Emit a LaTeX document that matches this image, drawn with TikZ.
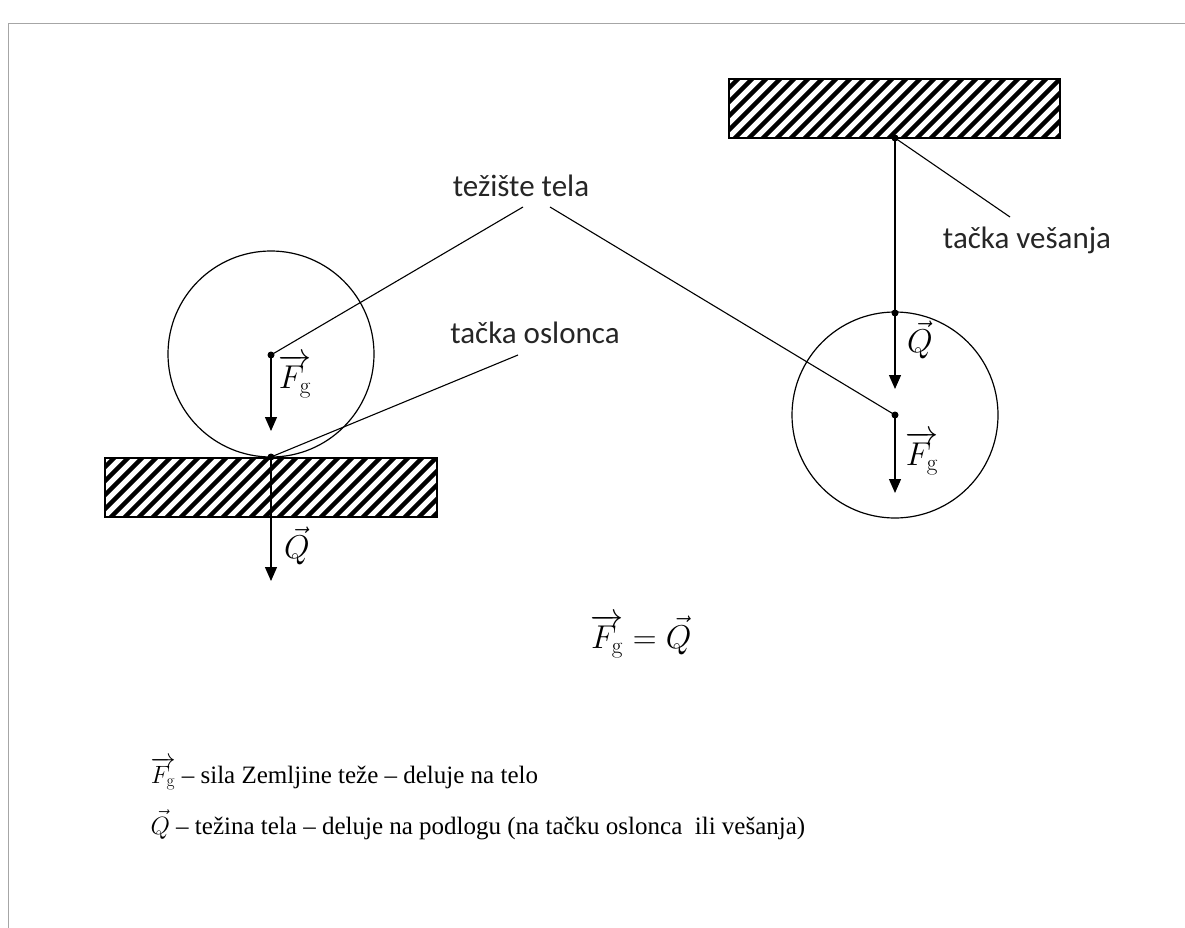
\RequirePackage{fix-cm}
\documentclass[tikz,border=0pt]{standalone}
\usepackage[no-math]{fontspec}
\setmainfont{Carlito}
\newfontfamily\legfont{Liberation Serif}
\usetikzlibrary{arrows.meta}
\tikzset{
  lbl/.style={font=\fontsize{31}{35}\selectfont, text=black!85, inner sep=0pt},
  mth/.style={font=\fontsize{33}{37}\selectfont, inner sep=0pt},
  leg/.style={font=\fontsize{25}{29}\selectfont\legfont, anchor=base west, inner sep=0pt},
  force/.style={line width=1.3pt, -{Triangle[length=14pt,width=12pt]}},
  leader/.style={line width=1.1pt},
  dotpt/.style={circle, fill=black, inner sep=0pt, minimum size=7pt}
}
\newcommand\hatchbox[4]{%
  \begin{scope}
    \clip (#1,#2) rectangle (#3,#4);
    \foreach \i in {-80,-66,...,420} \draw[line width=4.5pt] ({#1+\i},{#4+2}) -- ({#1+\i+63},{#2-2});
  \end{scope}
  \draw[line width=1.6pt] (#1,#2) rectangle (#3,#4);}
\newcommand\Fgvec{\overrightarrow{F_{\mathrm{g}}}}
\begin{document}
\begin{tikzpicture}[x=1pt,y=-1pt, line width=1.2pt]
\useasboundingbox (0,0) rectangle (1185,928);
\fill[white] (0,0) rectangle (1185,928);
\draw[black!35, line width=1.5pt] (8.5,928) -- (8.5,23.5) -- (1185,23.5);

% supports
\hatchbox{105}{458}{437}{517}
\hatchbox{729}{79}{1060}{138}

% circles
\draw (271,354) circle[radius=103pt];
\draw (895,415) circle[radius=103pt];

% points
\node[dotpt] (c1) at (271,355) {};
\node[dotpt] (k1) at (271,457) {};
\coordinate (e1) at (271,431);
\coordinate (e2) at (271,581);
\node[dotpt] (h) at (895,138) {};
\node[dotpt] (k2) at (895,313) {};
\node[dotpt] (c2) at (895,415) {};
\coordinate (e3) at (895,389);
\coordinate (e4) at (895,493);

% forces
\draw[force] (c1.center) -- (e1);
\draw[force] (k1.center) -- (e2);
\draw[line width=1.3pt] (h.center) -- (k2.center);
\draw[force] (k2.center) -- (e3);
\draw[force] (c2.center) -- (e4);

% force labels
\node[mth] (f1) at (295,376) {$\Fgvec$};
\node[mth] (q1) at (297,546) {$\vec{Q}$};
\node[mth] (q2) at (920,340) {$\vec{Q}$};
\node[mth] (f2) at (922,453) {$\Fgvec$};

% text labels and leaders
\node[lbl] (tez) at (521,186) {težište tela};
\node[lbl] (osl) at (535,333) {tačka oslonca};
\node[lbl] (ves) at (1027,240) {tačka vešanja};
\coordinate (t1) at (523,207);
\coordinate (t2) at (550,207);
\coordinate (o1) at (518,355);
\coordinate (v1) at (1010,217);
\draw[leader] (t1) -- (c1.center);
\draw[leader] (t2) -- (c2.center);
\draw[leader] (o1) -- (k1.center);
\draw[leader] (v1) -- (h.center);

% equation
\node[mth] (eq) at (641,636) {$\Fgvec=\vec{Q}$};

% legend
\node[leg] (l1) at (150,783) {$\Fgvec$ – sila Zemljine teže – deluje na telo};
\node[leg] (l2) at (150,834) {$\vec{Q}$ – težina tela – deluje na podlogu (na tačku oslonca\ \ ili vešanja)};
\end{tikzpicture}
\end{document}
